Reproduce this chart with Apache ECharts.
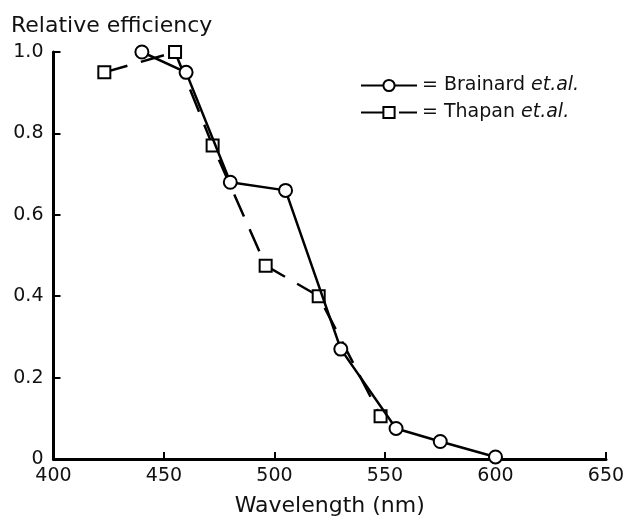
<!DOCTYPE html>
<html>
<head>
<meta charset="utf-8">
<script src="https://cdn.jsdelivr.net/npm/echarts@6/dist/echarts.min.js"></script>
<style>
    html, body { margin: 0; padding: 0; background: #fff; }
    #chart1 { width: 626px; height: 517px; }
</style>
</head>
<body>
<div id="chart1"></div>
<script>
// wavelengths (nm) and relative efficiency
const brainardX = [440, 460, 480, 505, 530, 555, 575, 600]
const brainardY = [1.0, 0.95, 0.68, 0.66, 0.27, 0.075, 0.043, 0.005]
const thapanX = [423, 455, 472, 496, 520, 548]
const thapanY = [0.95, 1.0, 0.77, 0.475, 0.40, 0.105]

const seriesNames = ['Brainard', 'Thapan']
const xTicks = [400, 450, 500, 550, 600, 650]
const yTicks = [0, 0.2, 0.4, 0.6, 0.8, 1.0]

const fontFamily = 'DejaVu Sans'

function pairs (xs, ys) {
    let out = []
    for (let i = 0; i < xs.length; i++) {
        out.push([xs[i], ys[i]])
    }
    return out
}

let chart1 = echarts.init(document.getElementById('chart1'), null, { renderer: 'canvas' })

let option = {
    animation: false,
    backgroundColor: '#fff',
    title: {
        text: 'Relative efficiency',
        left: 6,
        top: 10,
        textStyle: {
            color: '#111',
            fontFamily: fontFamily,
            fontWeight: 'normal',
            fontSize: 22
        }
    },
    legend: {
        orient: 'vertical',
        left: 355,
        top: 71,
        itemWidth: 56,
        itemHeight: 14,
        itemGap: 8,
        data: seriesNames,
        formatter: function (name) {
            if (name === 'Brainard') {
                return '= Brainard {i|et.al.}'
            }
            return '= Thapan {i|et.al.}'
        },
        textStyle: {
            color: '#111',
            fontFamily: fontFamily,
            fontSize: 19,
            rich: {
                i: {
                    fontStyle: 'italic',
                    fontFamily: fontFamily,
                    fontSize: 19,
                    color: '#111'
                }
            }
        }
    },
    grid: {
        left: 53.5,
        right: 20,
        top: 52,
        bottom: 58,
        containLabel: false,
        outerBoundsMode: 'none'
    },
    xAxis: {
        type: 'value',
        min: 400,
        max: 650,
        interval: 50,
        name: 'Wavelength (nm)',
        nameLocation: 'middle',
        nameGap: 36,
        nameTextStyle: {
            color: '#111',
            fontFamily: fontFamily,
            fontSize: 22
        },
        axisLine: { lineStyle: { color: '#000', width: 3 } },
        axisTick: { inside: true, length: 7, lineStyle: { color: '#000', width: 2 } },
        axisLabel: {
            color: '#111',
            fontFamily: fontFamily,
            fontSize: 19,
            margin: 8,
            formatter: function (v) { return xTicks.indexOf(v) >= 0 ? String(v) : '' }
        },
        splitLine: { show: false }
    },
    yAxis: {
        type: 'value',
        min: 0,
        max: 1.0,
        interval: 0.2,
        axisLine: { lineStyle: { color: '#000', width: 3 } },
        axisTick: { inside: true, length: 7, lineStyle: { color: '#000', width: 2 } },
        axisLabel: {
            color: '#111',
            fontFamily: fontFamily,
            fontSize: 19,
            margin: 10,
            formatter: function (v) {
                let k = Math.round(v * 10) / 10
                if (k === 0) return '0'
                return k.toFixed(1)
            }
        },
        splitLine: { show: false }
    },
    series: [
        {
            name: 'Thapan',
            type: 'line',
            data: pairs(thapanX, thapanY),
            symbol: 'rect',
            symbolSize: 12,
            z: 2,
            lineStyle: { color: '#000', width: 2.5, type: [24, 14] },
            itemStyle: { color: '#fff', borderColor: '#000', borderWidth: 2 }
        },
        {
            name: 'Brainard',
            type: 'line',
            data: pairs(brainardX, brainardY),
            symbol: 'circle',
            symbolSize: 13,
            z: 3,
            lineStyle: { color: '#000', width: 2.5, type: 'solid' },
            itemStyle: { color: '#fff', borderColor: '#000', borderWidth: 2 }
        }
    ]
}
chart1.setOption(option)
</script>
</body>
</html>
